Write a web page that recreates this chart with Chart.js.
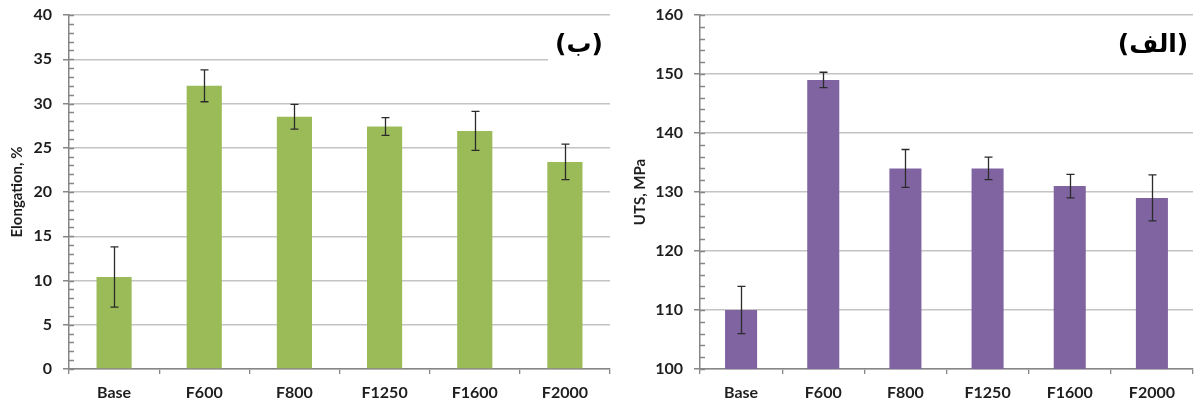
<!DOCTYPE html>
<html>
<head>
<meta charset="utf-8">
<title>Elongation and UTS</title>
<script src="https://cdn.jsdelivr.net/npm/chart.js@4.4.1/dist/chart.umd.min.js"></script>
<style>
  body { margin: 0; background: #fff; }
  #wrap { position: relative; width: 1194px; height: 407px; overflow: hidden; }
  canvas { position: absolute; top: 0; }
  #eloChart { left: 0; }
  #utsChart { left: 612px; }
</style>
</head>
<body>
<div id="wrap">
  <canvas id="eloChart" width="612" height="407"></canvas>
  <canvas id="utsChart" width="582" height="407"></canvas>
</div>
<script>
// data
const categories = ['Base', 'F600', 'F800', 'F1250', 'F1600', 'F2000'];

const elongation = [10.4, 32, 28.5, 27.4, 26.9, 23.4];
const elongationErr = [3.4, 1.8, 1.4, 1.0, 2.2, 2.0];

const uts = [110, 149, 134, 134, 131, 129];
const utsErr = [4.0, 1.3, 3.2, 1.9, 2.0, 3.9];

const greenBar = '#9bbb59';
const purpleBar = '#8064a2';
const axisGray = '#868686';
const gridGray = '#c4c4c4';
const textDark = '#1e1e1e';
const tickFont = { family: 'Lato', size: 16, weight: 'bold' };

// draws the +/- error whiskers on top of each bar
function errorBarsPlugin(errors) {
    return {
        id: 'errorBars',
        afterDatasetsDraw(chart) {
            const ctx = chart.ctx;
            const yScale = chart.scales.y;
            const meta = chart.getDatasetMeta(0);
            const values = chart.data.datasets[0].data;
            ctx.save();
            ctx.strokeStyle = '#2b2b2b';
            ctx.lineWidth = 1.3;
            meta.data.forEach((bar, i) => {
                const top = yScale.getPixelForValue(values[i] + errors[i]);
                const bottom = yScale.getPixelForValue(values[i] - errors[i]);
                const x = Math.round(bar.x) + 0.5;
                ctx.beginPath();
                ctx.moveTo(x, top);
                ctx.lineTo(x, bottom);
                ctx.moveTo(x - 4, top);
                ctx.lineTo(x + 4, top);
                ctx.moveTo(x - 4, bottom);
                ctx.lineTo(x + 4, bottom);
                ctx.stroke();
            });
            ctx.restore();
        }
    };
}

// small inner ticks between the labelled ones on the value axis
function minorTicksPlugin(step) {
    return {
        id: 'minorTicks',
        afterDraw(chart) {
            const ctx = chart.ctx;
            const yScale = chart.scales.y;
            const left = chart.chartArea.left;
            ctx.save();
            ctx.strokeStyle = axisGray;
            ctx.lineWidth = 1.3;
            ctx.beginPath();
            for (let v = yScale.min; v <= yScale.max; v += step) {
                const y = Math.round(yScale.getPixelForValue(v)) + 0.5;
                ctx.moveTo(left, y);
                ctx.lineTo(left + 5, y);
            }
            ctx.stroke();
            ctx.restore();
        }
    };
}

// the panel letter in the top right corner
function panelLabelPlugin(text, cx, cy, box) {
    return {
        id: 'panelLabel',
        afterDraw(chart) {
            const ctx = chart.ctx;
            ctx.save();
            if (box) {
                ctx.fillStyle = '#ffffff';
                ctx.fillRect(box[0], box[1], box[2], box[3]);
            }
            ctx.direction = 'ltr';
            ctx.fillStyle = '#000000';
            ctx.font = 'bold 25px "DejaVu Sans"';
            ctx.textAlign = 'center';
            ctx.textBaseline = 'middle';
            ctx.fillText(text, cx, cy);
            ctx.restore();
        }
    };
}

function makeChart(canvasId, values, color, yMin, yMax, yStep, yTitle, axisWidth, titlePad, padRight, plugins) {
    const ctx = document.getElementById(canvasId).getContext('2d');
    return new Chart(ctx, {
        type: 'bar',
        data: {
            labels: categories,
            datasets: [{
                data: values,
                backgroundColor: color,
                borderWidth: 0,
                categoryPercentage: 1,
                barPercentage: 0.39
            }]
        },
        options: {
            responsive: false,
            animation: false,
            devicePixelRatio: 1,
            layout: { padding: { top: 15, right: padRight, bottom: 0, left: 0 } },
            plugins: {
                legend: { display: false },
                tooltip: { enabled: false }
            },
            scales: {
                x: {
                    afterFit(scale) { scale.height = 38; },
                    grid: {
                        drawOnChartArea: false,
                        drawTicks: true,
                        tickLength: 5,
                        tickColor: axisGray,
                        lineWidth: 1.3
                    },
                    border: { color: axisGray, width: 1.5 },
                    ticks: { color: textDark, font: tickFont, padding: 9, maxRotation: 0 }
                },
                y: {
                    min: yMin,
                    max: yMax,
                    afterFit(scale) {
                        scale.width = axisWidth;
                        scale.paddingTop = 0;
                        scale.paddingBottom = 0;
                    },
                    grid: {
                        color: gridGray,
                        lineWidth: 1.5,
                        tickLength: 6,
                        tickColor: axisGray
                    },
                    border: { color: axisGray, width: 1.5 },
                    ticks: { stepSize: yStep, color: textDark, font: tickFont, padding: 11 },
                    title: {
                        display: true,
                        text: yTitle,
                        color: textDark,
                        font: { family: 'Lato', size: 15, weight: 'bold' },
                        padding: { top: titlePad, bottom: 0 }
                    }
                }
            }
        },
        plugins: plugins
    });
}

makeChart('eloChart', elongation, greenBar, 0, 40, 5, 'Elongation, %', 69, 8, 2, [
    errorBarsPlugin(elongationErr),
    minorTicksPlugin(1),
    panelLabelPlugin('(ب)', 579, 45, [548, 26, 64, 38])
]);

makeChart('utsChart', uts, purpleBar, 100, 160, 10, 'UTS, MPa', 88, 19, 1, [
    errorBarsPlugin(utsErr),
    minorTicksPlugin(2),
    panelLabelPlugin('(الف)', 541, 45, null)
]);
</script>
</body>
</html>
